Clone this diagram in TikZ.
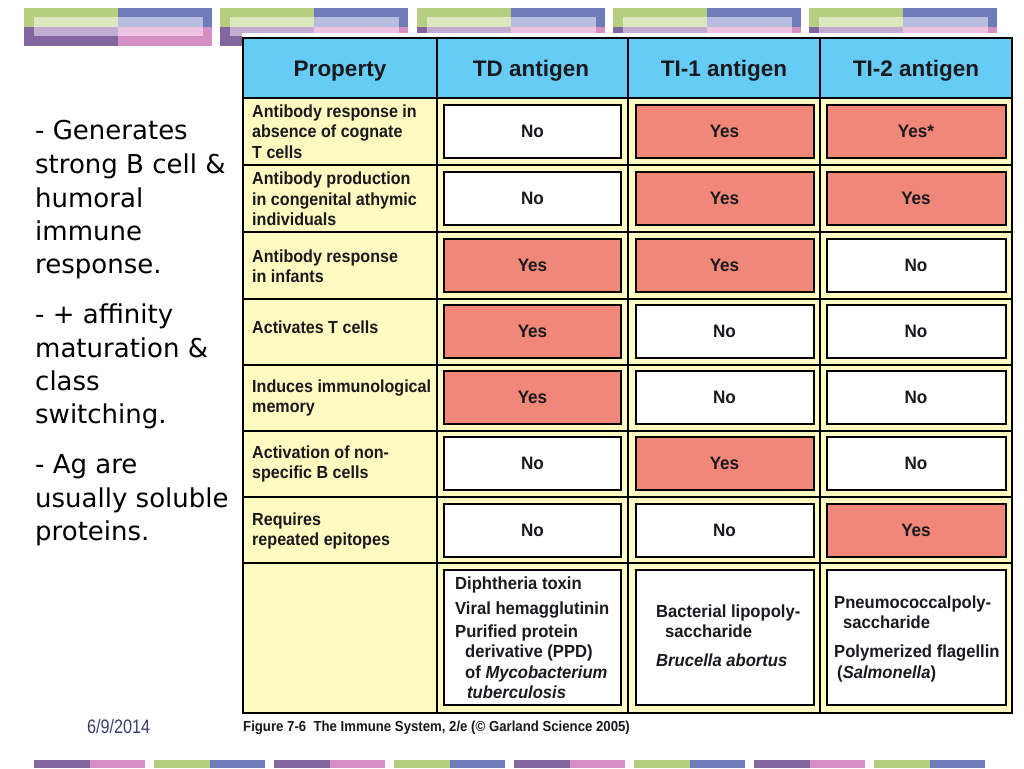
\documentclass[tikz,border=0pt]{standalone}
\usepackage{fontspec}
\setmainfont{Liberation Sans}
\newfontfamily\tf[FakeStretch=0.95]{Liberation Sans}
\newfontfamily\pf[FakeStretch=0.92]{Liberation Sans}
\newfontfamily\hf{Liberation Sans}
\newfontfamily\lf{DejaVu Sans}
\newfontfamily\cf[FakeStretch=0.91]{Liberation Sans}
\newfontfamily\df[FakeStretch=0.83]{Liberation Sans}
\definecolor{hdrblue}{RGB}{102,204,246}
\definecolor{paleY}{RGB}{255,250,192}
\definecolor{salm}{RGB}{240,135,120}
\definecolor{dgreen}{RGB}{181,206,128}
\definecolor{dblue}{RGB}{110,125,185}
\definecolor{dpurple}{RGB}{130,102,160}
\definecolor{dpink}{RGB}{214,143,196}
\definecolor{lgreen}{RGB}{220,232,190}
\definecolor{lblue}{RGB}{184,188,222}
\definecolor{lpurple}{RGB}{192,174,208}
\definecolor{lpink}{RGB}{236,196,226}
\definecolor{datecol}{RGB}{58,62,108}
\definecolor{ink}{RGB}{25,25,30}
\tikzset{
  hdr/.style={anchor=base, inner sep=0pt, text=ink, font=\hf\bfseries\fontsize{22.5}{26}\selectfont},
  prop/.style={anchor=west, align=left, inner sep=0pt, text=ink, font=\pf\bfseries\fontsize{17.5}{20.5}\selectfont},
  cellbox/.style={draw=black, line width=2pt, inner sep=0pt, minimum height=53pt, text=ink, font=\tf\bfseries\fontsize{18}{20}\selectfont},
  yesbox/.style={cellbox, fill=salm},
  nobox/.style={cellbox, fill=white},
  exline/.style={anchor=base west, inner sep=0pt, text=ink, font=\tf\bfseries\fontsize{17.5}{20}\selectfont},
  sideline/.style={anchor=base west, inner sep=0pt, text=black, font=\lf\fontsize{26}{30}\selectfont},
  gridline/.style={line width=2pt, draw=black},
}
\begin{document}
\begin{tikzpicture}[x=1pt,y=-1pt]
\useasboundingbox (0,0) rectangle (1024,768);
\fill[white] (0,0) rectangle (1024,768);
% top decoration blocks
\foreach \xo in {24,220,417,613,809}{
  \fill[dgreen] (\xo,8) rectangle ++(94,19);
  \fill[dblue] (\xo+94,8) rectangle ++(94,19);
  \fill[dpurple] (\xo,27) rectangle ++(94,19);
  \fill[dpink] (\xo+94,27) rectangle ++(94,19);
  \fill[lgreen] (\xo+10,17) rectangle ++(84,10);
  \fill[lblue] (\xo+94,17) rectangle ++(85,10);
  \fill[lpurple] (\xo+10,27) rectangle ++(84,9);
  \fill[lpink] (\xo+94,27) rectangle ++(85,9);
}
% white backing of the table figure
\fill[white] (242,33) rectangle (1022,718);
% table backgrounds
\fill[hdrblue] (243,38) rectangle (1012,98);
\fill[paleY] (243,98) rectangle (1012,713);
% grid
\foreach \yy in {98,165,232,298.5,364.5,430.5,497,563}{
  \draw[gridline] (243,\yy) -- (1012,\yy);
}
\foreach \xx in {437,628,820}{
  \draw[gridline] (\xx,38) -- (\xx,713);
}
\draw[line width=2.5pt] (243,38) rectangle (1012,713);
% header
\node[hdr] (hP) at (340,77) {Property};
\node[hdr] (hTD) at (531,77) {TD antigen};
\node[hdr] (hT1) at (724,77) {TI-1 antigen};
\node[hdr] (hT2) at (916,77) {TI-2 antigen};
% property column
\node[prop] (p1) at (252,131.5) {Antibody response in\\absence of cognate\\T cells};
\node[prop] (p2) at (252,199) {Antibody production\\in congenital athymic\\individuals};
\node[prop] (p3) at (252,266) {Antibody response\\in infants};
\node[prop] (p4) at (252,327) {Activates T cells};
\node[prop] (p5) at (252,398) {Induces immunological\\memory};
\node[prop] (p6) at (252,464) {Activation of non-\\specific B cells};
\node[prop] (p7) at (252,531) {Requires\\repeated epitopes};
% answer boxes
\tikzset{tdw/.style={minimum width=177pt}, t1w/.style={minimum width=178pt}, t2w/.style={minimum width=179pt}}
\node[nobox,tdw] (a11) at (532.5,131.5) {No};
\node[yesbox,t1w] (a12) at (724.5,131.5) {Yes};
\node[yesbox,t2w] (a13) at (916,131.5) {Yes*};
\node[nobox,tdw] (a21) at (532.5,198.5) {No};
\node[yesbox,t1w] (a22) at (724.5,198.5) {Yes};
\node[yesbox,t2w] (a23) at (916,198.5) {Yes};
\node[yesbox,tdw] (a31) at (532.5,265) {Yes};
\node[yesbox,t1w] (a32) at (724.5,265) {Yes};
\node[nobox,t2w] (a33) at (916,265) {No};
\node[yesbox,tdw] (a41) at (532.5,331) {Yes};
\node[nobox,t1w] (a42) at (724.5,331) {No};
\node[nobox,t2w] (a43) at (916,331) {No};
\node[yesbox,tdw] (a51) at (532.5,397) {Yes};
\node[nobox,t1w] (a52) at (724.5,397) {No};
\node[nobox,t2w] (a53) at (916,397) {No};
\node[nobox,tdw] (a61) at (532.5,463.5) {No};
\node[yesbox,t1w] (a62) at (724.5,463.5) {Yes};
\node[nobox,t2w] (a63) at (916,463.5) {No};
\node[nobox,tdw] (a71) at (532.5,530) {No};
\node[nobox,t1w] (a72) at (724.5,530) {No};
\node[yesbox,t2w] (a73) at (916,530) {Yes};
% example boxes
\node[nobox,tdw,minimum height=135pt] (e1) at (532.5,637.5) {};
\node[nobox,t1w,minimum height=135pt] (e2) at (724.5,637.5) {};
\node[nobox,t2w,minimum height=135pt] (e3) at (916,637.5) {};
\node[exline] (e1a) at (455,589) {Diphtheria toxin};
\node[exline] (e1b) at (455,614) {Viral hemagglutinin};
\node[exline] (e1c) at (455,637) {Purified protein};
\node[exline] (e1d) at (465,657) {derivative (PPD)};
\node[exline] (e1e) at (465,678) {of \textit{Mycobacterium}};
\node[exline] (e1f) at (467,698) {\textit{tuberculosis}};
\node[exline] (e2a) at (656,617) {Bacterial lipopoly-};
\node[exline] (e2b) at (665,637) {saccharide};
\node[exline] (e2c) at (656,666) {\textit{Brucella abortus}};
\node[exline] (e3a) at (834,608) {Pneumococcalpoly-};
\node[exline] (e3b) at (843,628) {saccharide};
\node[exline] (e3c) at (834,657) {Polymerized flagellin};
\node[exline] (e3d) at (837,678) {(\textit{Salmonella})};
% side text
\node[sideline] (s1) at (35,139) {- Generates};
\node[sideline] (s2) at (35,173) {strong B cell \&};
\node[sideline] (s3) at (35,207) {humoral};
\node[sideline] (s4) at (35,240) {immune};
\node[sideline] (s5) at (35,273) {response.};
\node[sideline] (s6) at (35,323) {- + affinity};
\node[sideline] (s7) at (35,357) {maturation \&};
\node[sideline] (s8) at (35,390) {class};
\node[sideline] (s9) at (35,423) {switching.};
\node[sideline] (s10) at (35,473) {- Ag are};
\node[sideline] (s11) at (35,507) {usually soluble};
\node[sideline] (s12) at (35,540) {proteins.};
% footer
\node[anchor=base west, inner sep=0pt, text=datecol, font=\df\fontsize{19.5}{22}\selectfont] (date) at (87,733) {6/9/2014};
\node[anchor=base west, inner sep=0pt, text=ink, font=\cf\bfseries\fontsize{14.5}{16}\selectfont] (cap) at (243,731) {Figure 7-6\ \ The Immune System, 2/e (© Garland Science 2005)};
% bottom bars
\foreach \k in {0,2,4,6}{
  \fill[dpurple] (34+120*\k,760) rectangle ++(55.5,8);
  \fill[dpink] (89.5+120*\k,760) rectangle ++(55.5,8);
}
\foreach \k in {1,3,5,7}{
  \fill[dgreen] (34+120*\k,760) rectangle ++(55.5,8);
  \fill[dblue] (89.5+120*\k,760) rectangle ++(55.5,8);
}
\end{tikzpicture}
\end{document}
